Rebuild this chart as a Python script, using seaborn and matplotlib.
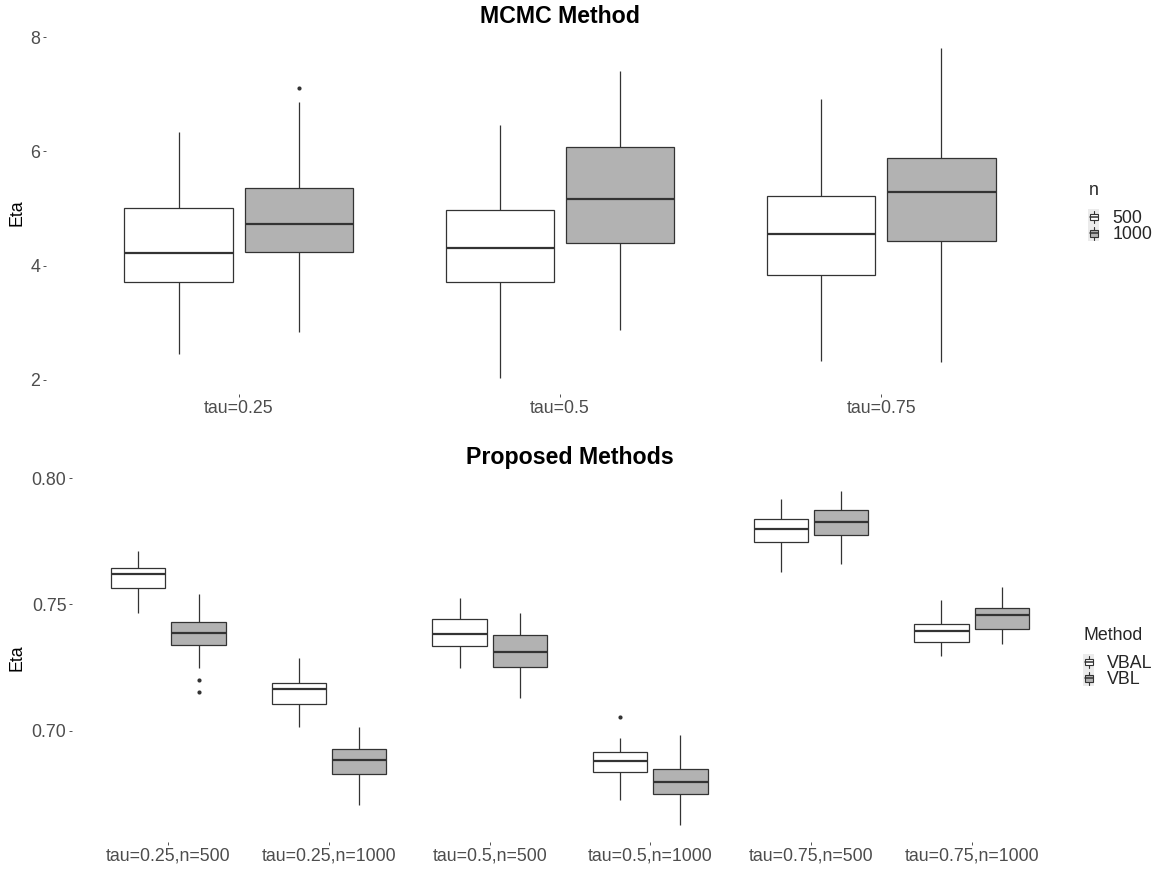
import numpy as np
import pandas as pd
import matplotlib
matplotlib.use("Agg")
import matplotlib.pyplot as plt
import seaborn as sns
from matplotlib.legend_handler import HandlerBase
from matplotlib.patches import Rectangle, Patch
from matplotlib.lines import Line2D

# ---------------------------------------------------------------------------
# MCMC method: box summaries per tau (rows ordered tau-major, n = 500 then 1000)
# ---------------------------------------------------------------------------
mcmc_tau = ["tau=0.25", "tau=0.5", "tau=0.75"]
mcmc_n = ["500", "1000"]
mcmc_low = [2.45, 2.83, 2.04, 2.87, 2.33, 2.32]
mcmc_q1 = [3.72, 4.23, 3.71, 4.40, 3.84, 4.43]
mcmc_med = [4.22, 4.72, 4.30, 5.16, 4.55, 5.28]
mcmc_q3 = [5.00, 5.35, 4.97, 6.08, 5.21, 5.89]
mcmc_high = [6.33, 6.87, 6.46, 7.41, 6.91, 7.80]
mcmc_out_tau = ["tau=0.25"]
mcmc_out_n = ["1000"]
mcmc_out_eta = [7.10]

# ---------------------------------------------------------------------------
# Proposed methods: box summaries per case (case-major, VBAL then VBL)
# ---------------------------------------------------------------------------
prop_case = ["tau=0.25,n=500", "tau=0.25,n=1000", "tau=0.5,n=500",
             "tau=0.5,n=1000", "tau=0.75,n=500", "tau=0.75,n=1000"]
prop_method = ["VBAL", "VBL"]
prop_low = [0.7468, 0.7247, 0.7015, 0.6708, 0.7248, 0.7131,
            0.6725, 0.6626, 0.7630, 0.7660, 0.7297, 0.7343]
prop_q1 = [0.7565, 0.7341, 0.7107, 0.6827, 0.7336, 0.7251,
           0.6835, 0.6749, 0.7748, 0.7774, 0.7351, 0.7403]
prop_med = [0.7622, 0.7386, 0.7164, 0.6884, 0.7382, 0.7312,
            0.6879, 0.6798, 0.7800, 0.7828, 0.7395, 0.7457]
prop_q3 = [0.7645, 0.7429, 0.7190, 0.6926, 0.7444, 0.7379,
           0.6917, 0.6849, 0.7839, 0.7874, 0.7422, 0.7486]
prop_high = [0.7712, 0.7540, 0.7288, 0.7013, 0.7527, 0.7465,
             0.6970, 0.6984, 0.7918, 0.7950, 0.7519, 0.7569]
prop_out_case = ["tau=0.25,n=500", "tau=0.25,n=500", "tau=0.5,n=1000"]
prop_out_method = ["VBL", "VBL", "VBAL"]
prop_out_eta = [0.7201, 0.7155, 0.7053]

mcmc_yticks = [2, 4, 6, 8]
prop_yticks = [0.70, 0.75, 0.80]

# ---------------------------------------------------------------------------
# Styling
# ---------------------------------------------------------------------------
sns.set_theme(style="white")
plt.rcParams["font.family"] = ["Liberation Sans", "DejaVu Sans"]

FILLS = ["white", "#B2B2B2"]
EDGE = "#333333"
TICK_TEXT = "#4D4D4D"
FS = 12.8
TITLE_FS = 16.7
BOX_WIDTH = 0.75


def summary_frame(cats, groups, stats, cat_col, grp_col):
    """Long-form frame with one row per five-number summary value."""
    rows = []
    k = 0
    for c in cats:
        for g in groups:
            for s in stats:
                rows.append({cat_col: c, grp_col: g, "Eta": s[k]})
            k += 1
    return pd.DataFrame(rows)


class BoxKey(HandlerBase):
    """Legend key drawn as a small boxplot glyph on a light grey square."""

    def create_artists(self, legend, orig_handle, xdescent, ydescent,
                       width, height, fontsize, trans):
        x0, y0 = -xdescent, -ydescent
        bg = Rectangle((x0, y0), width, height, facecolor="#EBEBEB",
                       edgecolor="none", transform=trans)
        cx = x0 + width / 2
        wl = Line2D([cx, cx], [y0 + 0.1 * height, y0 + 0.9 * height],
                    color=EDGE, lw=0.8, transform=trans)
        bx = Rectangle((x0 + 0.125 * width, y0 + 0.3 * height),
                       0.75 * width, 0.4 * height,
                       facecolor=orig_handle.get_facecolor(),
                       edgecolor=EDGE, lw=0.8, transform=trans)
        md = Line2D([x0 + 0.125 * width, x0 + 0.875 * width],
                    [y0 + 0.5 * height] * 2, color=EDGE, lw=1.1,
                    transform=trans)
        return [bg, wl, bx, md]


def draw_panel(ax, frame, cat_col, grp_col, cats, groups,
               out_cat, out_grp, out_eta, lows, highs, yticks, title, title_pad):
    sns.boxplot(data=frame, x=cat_col, y="Eta", hue=grp_col,
                order=cats, hue_order=groups,
                palette=dict(zip(groups, FILLS)),
                width=BOX_WIDTH, gap=0.1, dodge=True,
                whis=(0, 100), showfliers=False, showcaps=False,
                linecolor=EDGE, linewidth=0.9,
                medianprops=dict(color=EDGE, linewidth=1.6),
                legend=False, ax=ax)

    # outlying observations at the dodged box positions
    half = BOX_WIDTH / 2
    offsets = dict(zip(groups, [-half / 2, half / 2]))
    xs = [cats.index(c) + offsets[g] for c, g in zip(out_cat, out_grp)]
    ax.scatter(xs, out_eta, s=9, color=EDGE, linewidths=0, zorder=5)

    lo = min(min(lows), min(out_eta))
    hi = max(max(highs), max(out_eta))
    pad = 0.05 * (hi - lo)
    ax.set_ylim(lo - pad, hi + pad)
    ax.set_xlim(-0.6, len(cats) - 0.4)

    ax.set_yticks(yticks)
    sns.despine(ax=ax, left=True, bottom=True)
    ax.tick_params(axis="both", which="major", bottom=True, left=True,
                   length=2, width=0.6, color=EDGE, pad=2,
                   labelsize=FS, labelcolor=TICK_TEXT)
    ax.set_xlabel("")
    ax.set_ylabel("Eta", fontsize=FS, color="black")
    ax.set_title(title, fontsize=TITLE_FS, fontweight="bold",
                 color="black", pad=title_pad)
    ax.grid(False)


fig = plt.figure(figsize=(11.63, 8.71), dpi=100)

ax_top = fig.add_axes([0.03955, 0.54765, 0.88392, 0.41561])
ax_bot = fig.add_axes([0.06191, 0.03330, 0.85640, 0.42249])

mcmc_df = summary_frame(mcmc_tau, mcmc_n,
                        [mcmc_low, mcmc_q1, mcmc_med, mcmc_q3, mcmc_high],
                        "tau", "n")
prop_df = summary_frame(prop_case, prop_method,
                        [prop_low, prop_q1, prop_med, prop_q3, prop_high],
                        "case", "Method")

draw_panel(ax_top, mcmc_df, "tau", "n", mcmc_tau, mcmc_n,
           mcmc_out_tau, mcmc_out_n, mcmc_out_eta,
           mcmc_low, mcmc_high, mcmc_yticks, "MCMC Method", 6.7)
ax_top.set_yticklabels([f"{v:g}" for v in mcmc_yticks])
ax_top.yaxis.set_label_coords(-0.0195, 0.5)

draw_panel(ax_bot, prop_df, "case", "Method", prop_case, prop_method,
           prop_out_case, prop_out_method, prop_out_eta,
           prop_low, prop_high, prop_yticks, "Proposed Methods", 7.2)
ax_bot.set_yticklabels([f"{v:.2f}" for v in prop_yticks])
ax_bot.yaxis.set_label_coords(-0.0462, 0.5)


def add_legend(title, labels, anchor):
    handles = [Patch(facecolor=c, label=l) for l, c in zip(labels, FILLS)]
    leg = fig.legend(handles=handles, title=title, loc="center left",
                     bbox_to_anchor=anchor, bbox_transform=fig.transFigure,
                     frameon=False, fontsize=FS, title_fontsize=FS,
                     handler_map={Patch: BoxKey()},
                     handlelength=0.6, handleheight=1.0,
                     handletextpad=0.75, labelspacing=-0.1,
                     borderpad=0, borderaxespad=0, alignment="left")
    leg._legend_box.sep = 7
    return leg


add_legend("n", mcmc_n, (0.9358, 0.7555))
add_legend("Method", prop_method, (0.9315, 0.2446))

fig.savefig("out.png", dpi=100, facecolor="white")
